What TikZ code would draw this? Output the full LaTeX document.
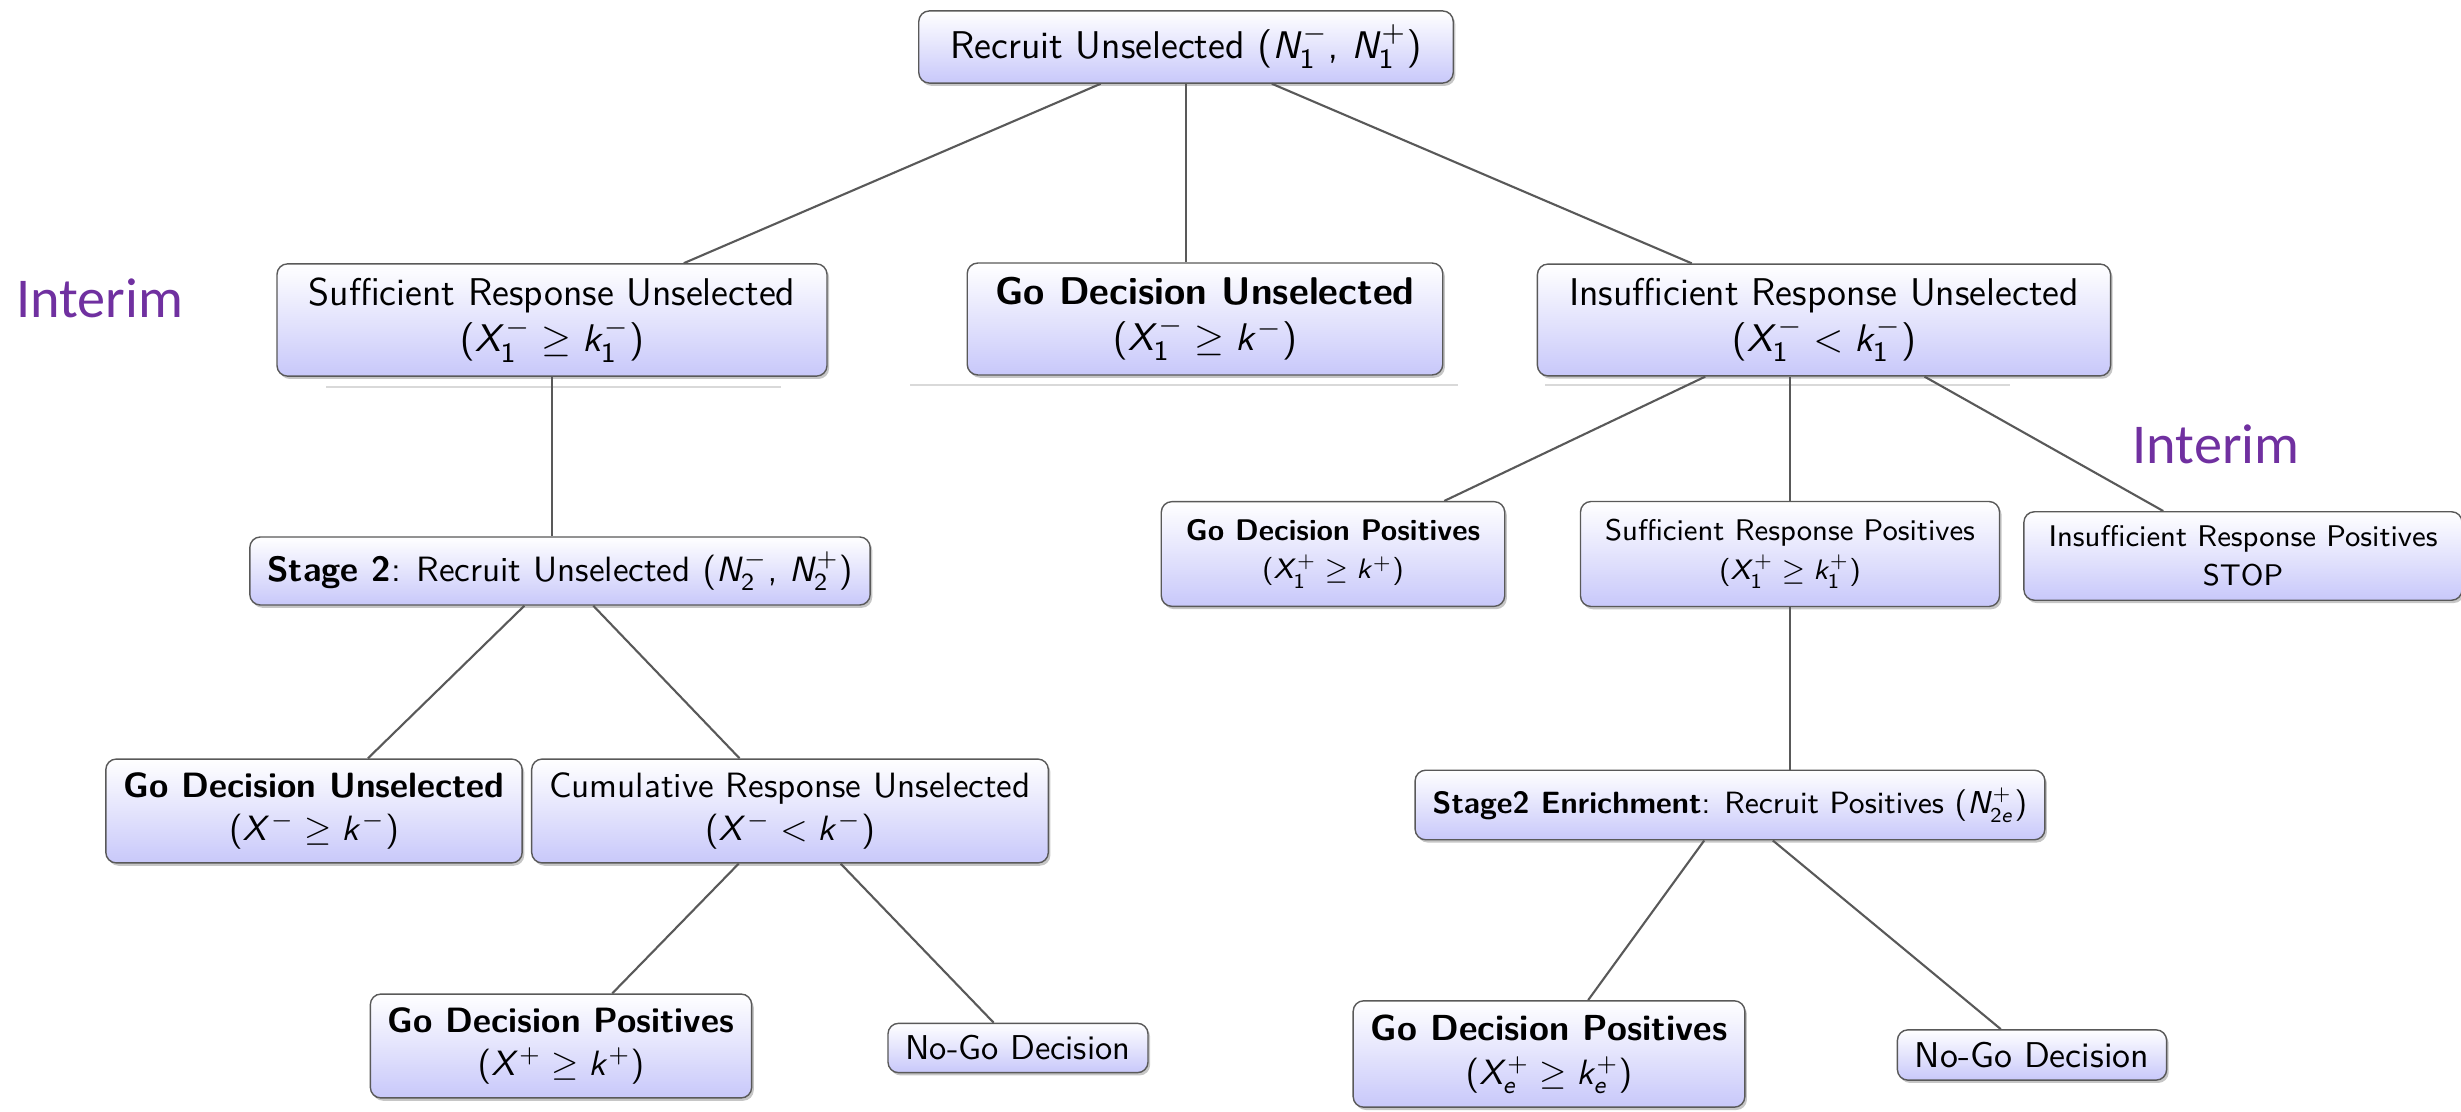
\documentclass[tikz,border=0pt]{standalone}
\usepackage[no-math]{fontspec}
\renewcommand{\familydefault}{\sfdefault}
\newfontfamily\interimfont{Carlito}
% sans serif math letters and digits
\DeclareSymbolFont{oldletters}{OML}{cmm}{m}{it}
\DeclareSymbolFont{operators}{OT1}{cmss}{m}{n}
\DeclareSymbolFont{letters}{OT1}{cmss}{m}{sl}
\DeclareMathSymbol{,}{\mathpunct}{operators}{`,}
\DeclareMathSymbol{<}{\mathrel}{oldletters}{"3C}
\usetikzlibrary{shadows}
\definecolor{boxblue}{RGB}{200,200,250}
\definecolor{interimpurple}{RGB}{112,48,160}
\tikzset{
  box/.style={draw=black!65, rounded corners=3pt, top color=white, bottom color=boxblue,
    drop shadow={shadow xshift=0.6pt, shadow yshift=-0.8pt, opacity=0.45},
    align=center, inner xsep=5pt, inner ysep=4pt},
  bigbox/.style={box, font=\fontsize{11}{13}\selectfont, inner xsep=9pt},
  midbox/.style={box, font=\fontsize{10}{12}\selectfont},
  smallbox/.style={box, font=\fontsize{8.5}{11}\selectfont, inner xsep=7pt, inner ysep=5pt},
  nogobox/.style={box, font=\fontsize{9.8}{12}\selectfont, inner ysep=3.5pt},
  branch/.style={draw=black!65, line width=0.6pt},
  interim/.style={text=interimpurple, font=\interimfont\fontsize{16}{19}\selectfont}
}
\begin{document}
\begin{tikzpicture}
\useasboundingbox (0,0) rectangle (24.61,-11.12);
% stage 1
\node[bigbox] (top) at (11.86,-0.47) {Recruit Unselected $(N_1^{-},\, N_1^{+})$};
\node[bigbox] (suffu) at (5.52,-3.20) {Sufficient Response Unselected\\$(X_1^{-} \geq k_1^{-})$};
\node[bigbox, inner xsep=8pt] (godu) at (12.05,-3.19) {\textbf{Go Decision Unselected}\\$(X_1^{-} \geq k^{-})$};
\node[bigbox] (insu) at (18.24,-3.20) {Insufficient Response Unselected\\$(X_1^{-} < k_1^{-})$};
\node[interim] (interimA) at (1.00,-2.98) {Interim};
\node[interim] (interimB) at (22.16,-4.44) {Interim};
% faint lines under the first row
\draw[black!15] (3.26,-3.87) -- (7.81,-3.87);
\draw[black!15] (9.10,-3.85) -- (14.58,-3.85);
\draw[black!15] (15.45,-3.85) -- (20.10,-3.85);
% unselected branch
\node[midbox] (stage2) at (5.60,-5.71) {\textbf{Stage 2}: Recruit Unselected $(N_2^{-},\, N_2^{+})$};
\node[midbox] (godu2) at (3.14,-8.11) {\textbf{Go Decision Unselected}\\$(X^{-} \geq k^{-})$};
\node[midbox] (cumu) at (7.90,-8.11) {Cumulative Response Unselected\\$(X^{-} < k^{-})$};
\node[midbox] (godp2) at (5.61,-10.46) {\textbf{Go Decision Positives}\\$(X^{+} \geq k^{+})$};
\node[nogobox] (nogo1) at (10.18,-10.48) {No-Go Decision};
% positives branch
\node[smallbox] (godp1) at (13.33,-5.54) {\textbf{Go Decision Positives}\\$(X_1^{+} \geq k^{+})$};
\node[smallbox] (suffp) at (17.90,-5.54) {Sufficient Response Positives\\$(X_1^{+} \geq k_1^{+})$};
\node[smallbox, inner ysep=4pt] (insp) at (22.43,-5.56) {Insufficient Response Positives\\STOP};
\node[midbox, font=\fontsize{8.75}{11}\selectfont, inner ysep=5pt] (enrich) at (17.30,-8.05) {\textbf{Stage2 Enrichment}: Recruit Positives $(N_{2e}^{+})$};
\node[midbox, font=\fontsize{10.3}{12.5}\selectfont] (godp3) at (15.49,-10.54) {\textbf{Go Decision Positives}\\$(X_e^{+} \geq k_e^{+})$};
\node[nogobox, font=\fontsize{10.2}{12}\selectfont] (nogo2) at (20.32,-10.55) {No-Go Decision};
% connectors
\draw[branch] (top) -- (suffu);
\draw[branch] (top.south) -- (top.south |- godu.north);
\draw[branch] (top) -- (insu);
\draw[branch] (suffu.south) -- (suffu.south |- stage2.north);
\draw[branch] (stage2) -- (godu2);
\draw[branch] (stage2) -- (cumu);
\draw[branch] (cumu) -- (godp2);
\draw[branch] (cumu) -- (nogo1);
\draw[branch] (insu) -- (godp1);
\draw[branch] (suffp.north) -- (suffp.north |- insu.south);
\draw[branch] (insu) -- (insp);
\draw[branch] (suffp.south) -- (suffp.south |- enrich.north);
\draw[branch] (enrich) -- (godp3);
\draw[branch] (enrich) -- (nogo2);
\end{tikzpicture}
\end{document}
